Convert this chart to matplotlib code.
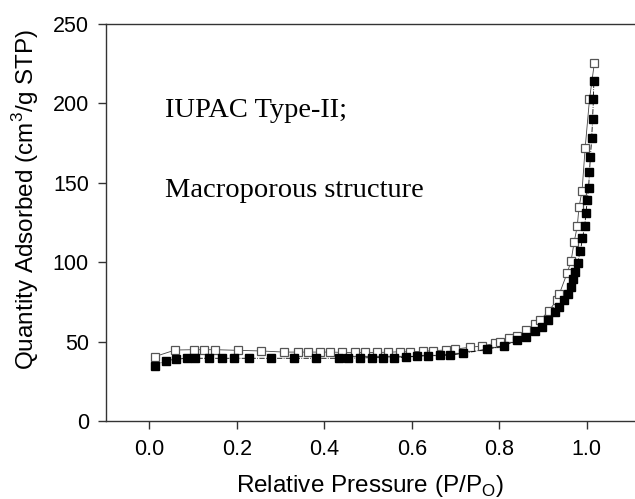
import numpy as np
import matplotlib.pyplot as plt

# adsorption branch (filled squares)
x_ads = [0.012, 0.037, 0.062, 0.085, 0.105, 0.136, 0.167, 0.193, 0.228, 0.279,
         0.330, 0.382, 0.433, 0.455, 0.482, 0.509, 0.534, 0.560, 0.586, 0.612,
         0.637, 0.665, 0.687, 0.718, 0.771, 0.810, 0.840, 0.860, 0.882, 0.898,
         0.912, 0.928, 0.937, 0.948, 0.957, 0.964, 0.969, 0.973, 0.979, 0.985,
         0.990, 0.995, 0.998, 1.001, 1.004, 1.006, 1.008, 1.011, 1.013, 1.015, 1.016]
y_ads = [34.8, 38.0, 38.9, 39.5, 39.5, 39.5, 39.5, 39.5, 39.5, 39.5,
         39.5, 39.5, 39.5, 39.5, 39.7, 39.9, 39.9, 39.9, 40.1, 41.0,
         41.0, 41.4, 41.4, 42.7, 45.2, 47.2, 50.8, 52.9, 56.9, 59.4,
         63.6, 68.9, 72.0, 76.2, 80.0, 84.6, 89.2, 94.0, 99.5, 107.0,
         115.0, 123.0, 131.0, 139.0, 147.0, 157.0, 166.0, 178.0, 190.0, 203.0, 214.0]

# desorption branch (open squares)
x_des = [0.012, 0.059, 0.102, 0.126, 0.151, 0.203, 0.256, 0.308, 0.339, 0.362,
         0.391, 0.414, 0.441, 0.469, 0.494, 0.521, 0.545, 0.573, 0.596, 0.626,
         0.648, 0.678, 0.699, 0.732, 0.760, 0.790, 0.802, 0.821, 0.840, 0.861,
         0.882, 0.893, 0.914, 0.931, 0.937, 0.955, 0.964, 0.971, 0.978, 0.982,
         0.989, 0.996, 1.006, 1.017]
y_des = [40.5, 44.7, 44.9, 44.9, 44.9, 44.5, 44.1, 43.4, 43.4, 43.4,
         43.4, 43.4, 43.2, 43.2, 43.2, 43.2, 43.3, 43.6, 43.6, 43.9,
         44.3, 44.7, 45.3, 46.4, 47.2, 48.9, 49.9, 52.1, 53.7, 57.3,
         61.1, 63.6, 69.5, 76.2, 80.0, 93.2, 101.0, 112.9, 122.5, 134.7,
         145.0, 171.7, 202.6, 225.2]

xticks = [0.0, 0.2, 0.4, 0.6, 0.8, 1.0]
yticks = [0, 50, 100, 150, 200, 250]

fig = plt.figure(figsize=(6.35, 4.99), dpi=100)
ax = fig.add_axes([105.6 / 635, 78 / 499, 1 - 105.6 / 635, 397 / 499])

ax.plot(x_des, y_des, '-', color='#444444', lw=0.6, marker='s', ms=5.8,
        mfc='white', mec='#555555', mew=0.9)
ax.plot(x_ads, y_ads, '-.', color='black', lw=0.6, marker='s', ms=5.8,
        mfc='black', mec='black')

ax.set_xlim(-0.1, 1.11)
ax.set_ylim(0, 250)
ax.set_xticks(xticks)
ax.set_yticks(yticks)
ax.set_xticklabels(['%.1f' % v for v in xticks])
ax.spines['right'].set_visible(False)
for s in ['left', 'bottom', 'top']:
    ax.spines[s].set_color('#333333')
    ax.spines[s].set_linewidth(1.0)
ax.tick_params(direction='out', length=6, width=1, color='#333333',
               labelsize=15.5, pad=6)
ax.tick_params(axis='x', pad=7)
for lab in ax.get_xticklabels() + ax.get_yticklabels():
    lab.set_family('Liberation Sans')

ax.set_xlabel('Relative Pressure (P/P$_\\mathregular{O}$)', fontsize=17.5,
              family='Liberation Sans', labelpad=9)
ax.set_ylabel('Quantity Adsorbed (cm$^\\mathregular{3}$/g STP)', fontsize=17.5,
              family='Liberation Sans')
ax.yaxis.set_label_coords(-0.122, 0.557)

fig.text(165 / 635, 1 - 117 / 499, 'IUPAC Type-II;', fontsize=20.5,
         family='Liberation Serif', va='baseline')
fig.text(165 / 635, 1 - 197 / 499, 'Macroporous structure', fontsize=20.5,
         family='Liberation Serif', va='baseline')

fig.savefig('out.png', dpi=100)
